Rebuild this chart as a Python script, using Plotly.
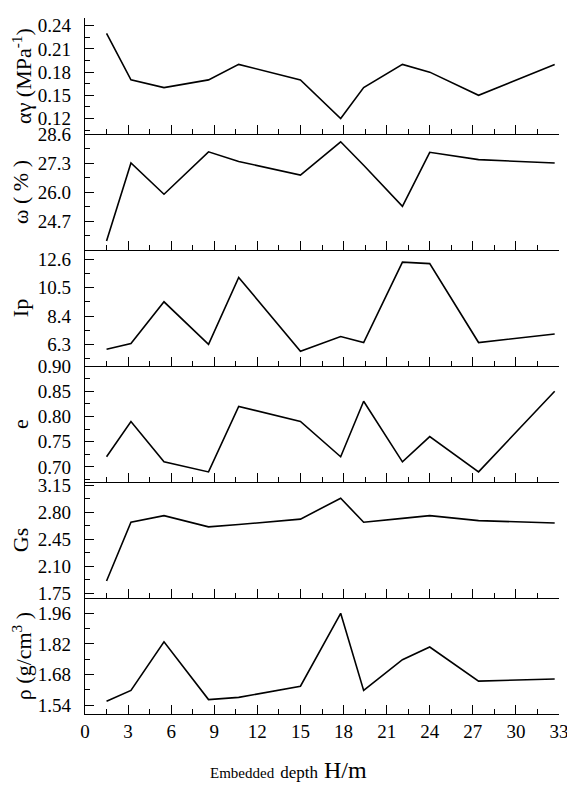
import plotly.graph_objects as go
from plotly.subplots import make_subplots

# Données
depth = [1.5, 3.2, 5.5, 8.6, 10.7, 15.0, 17.8, 19.4, 22.1, 24.0, 27.4, 32.7]
alpha = [0.23, 0.17, 0.16, 0.17, 0.19, 0.17, 0.12, 0.16, 0.19, 0.18, 0.15, 0.19]
omega = [23.8, 27.3, 25.9, 27.8, 27.37, 26.76, 28.25, 27.2, 25.36, 27.78, 27.45, 27.3]
ip = [5.94, 6.37, 9.46, 6.3, 11.27, 5.79, 6.88, 6.44, 12.4, 12.29, 6.44, 7.07]
void_ratio = [0.72, 0.79, 0.71, 0.69, 0.82, 0.79, 0.72, 0.83, 0.71, 0.76, 0.69, 0.85]
gs = [1.91, 2.67, 2.755, 2.61, 2.64, 2.71, 2.98, 2.67, 2.72, 2.755, 2.69, 2.66]
rho = [1.558, 1.608, 1.83, 1.566, 1.576, 1.627, 1.96, 1.608, 1.748, 1.806, 1.65, 1.66]

x_ticks = [0, 3, 6, 9, 12, 15, 18, 21, 24, 27, 30, 33]
alpha_ticks = [0.12, 0.15, 0.18, 0.21, 0.24]
omega_ticks = [24.7, 26.0, 27.3, 28.6]
ip_ticks = [6.3, 8.4, 10.5, 12.6]
e_ticks = [0.70, 0.75, 0.80, 0.85, 0.90]
gs_ticks = [1.75, 2.10, 2.45, 2.80, 3.15]
rho_ticks = [1.54, 1.68, 1.82, 1.96]

serif = "Liberation Serif"

panels = [
    (alpha, "αγ (MPa<sup>-1</sup>)", alpha_ticks, [0.10, 0.25], ".2f", 0.015),
    (omega, "ω ( % )", omega_ticks, [23.4, 28.6], ".1f", 0.65),
    (ip, "Ip", ip_ticks, [4.7, 13.3], ".1f", 1.05),
    (void_ratio, "e", e_ticks, [0.67, 0.90], ".2f", 0.025),
    (gs, "Gs", gs_ticks, [1.69, 3.19], ".2f", 0.175),
    (rho, "ρ (g/cm<sup>3</sup> )", rho_ticks, [1.50, 2.03], ".2f", 0.07),
]

fig = make_subplots(rows=6, cols=1, shared_xaxes=True, vertical_spacing=0)

for i, (vals, title, ticks, rng, fmt, minor_step) in enumerate(panels, start=1):
    fig.add_trace(go.Scatter(x=depth, y=vals, mode='lines',
                             line=dict(color='black', width=1.6),
                             showlegend=False), row=i, col=1)
    fig.update_yaxes(range=rng, tickmode='array', tickvals=ticks, tickformat=fmt,
                     ticks='inside', ticklen=9, tickwidth=1.3, tickcolor='black',
                     minor=dict(ticks='inside', ticklen=5, tickwidth=1.3, tickcolor='black',
                                tickmode='linear', tick0=ticks[0], dtick=minor_step),
                     showline=True, linecolor='black', linewidth=1.3,
                     showgrid=False, zeroline=False, ticklabelstandoff=9,
                     tickfont=dict(family=serif, size=19, color='black'),
                     title=dict(text=title, standoff=5,
                                font=dict(family=serif, size=22, color='black')),
                     row=i, col=1)
    fig.update_xaxes(range=[0, 33], tickmode='array', tickvals=x_ticks,
                     ticks='inside', ticklen=9, tickwidth=1.3, tickcolor='black',
                     minor=dict(ticks='inside', ticklen=5, tickwidth=1.3, tickcolor='black',
                                tickmode='linear', tick0=0, dtick=1.5),
                     showline=True, linecolor='black', linewidth=1.3,
                     showgrid=False, zeroline=False,
                     tickfont=dict(family=serif, size=19, color='black'),
                     row=i, col=1)

fig.update_xaxes(showticklabels=True, row=6, col=1)

# Titre de l'axe des x
fig.add_annotation(text="<span style='font-size:15px'>Embedded</span> "
                        "<span style='font-size:17px'>depth</span> H/m",
                   xref='paper', yref='paper', x=0.43, y=-0.08,
                   xanchor='center', yanchor='middle', showarrow=False,
                   font=dict(family=serif, size=24, color='black'))

# la page ajoute une marge de 8 px autour de la figure
fig.update_layout(width=567, height=780,
                  margin=dict(l=77, r=16, t=0, b=74),
                  plot_bgcolor='white', paper_bgcolor='white')

fig.write_html("out.html")
